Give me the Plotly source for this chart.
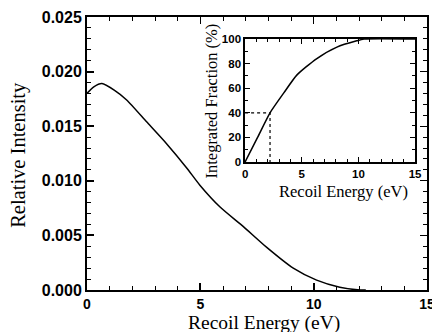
import plotly.graph_objects as go

# Main curve: relative intensity vs recoil energy
energy = [0, 0.3, 0.66, 1.2, 1.75, 2.63, 3.51, 4.39, 4.98, 5.87, 6.9, 7.93, 9.1, 10.13, 11.15, 11.94, 12.3]
intensity = [0.0180, 0.0186, 0.0189, 0.0183, 0.0174, 0.0154, 0.0134, 0.0112, 0.0096, 0.0076, 0.0058, 0.0039,
             0.0020, 0.0009, 0.00025, 0.00002, 0.0]

# Inset: integrated fraction
inset_energy = [0, 1.1, 2.2, 3.4, 4.56, 6.3, 8.1, 9.85, 10.5, 15]
inset_fraction = [0, 20, 40, 56, 70.7, 84, 93.5, 98.6, 100, 100]

# Dotted marker at 40 %
mark_x = 2.2
mark_y = 40

x_ticks = [0, 5, 10, 15]
y_ticks = [0.000, 0.005, 0.010, 0.015, 0.020, 0.025]
inset_y_ticks = [0, 20, 40, 60, 80, 100]

serif = "Liberation Serif"
sans = "Liberation Sans"

fig = go.Figure()
fig.add_trace(go.Scatter(x=energy, y=intensity, mode="lines",
                         line=dict(color="black", width=1.5, shape="spline", smoothing=0.6),
                         xaxis="x", yaxis="y", cliponaxis=False))
fig.add_trace(go.Scatter(x=inset_energy, y=inset_fraction, mode="lines",
                         line=dict(color="black", width=1.5, shape="spline", smoothing=0.6),
                         xaxis="x2", yaxis="y2"))
fig.add_trace(go.Scatter(x=[0, mark_x, mark_x], y=[mark_y, mark_y, 0], mode="lines",
                         line=dict(color="black", width=1.2, dash="dot"), xaxis="x2", yaxis="y2"))

axis_common = dict(showline=True, linecolor="black", mirror=True, ticks="inside",
                   tickcolor="black", showgrid=False, zeroline=False, automargin=False)


def tick_axis(overlay, side, rng, major, minor, tl, mtl, anchor, domain):
    return dict(overlaying=overlay, side=side, range=rng, dtick=major, ticks="inside",
                ticklen=tl, tickwidth=1.2, tickcolor="black", showticklabels=False,
                showline=False, showgrid=False, zeroline=False, automargin=False, anchor=anchor,
                domain=domain,
                minor=dict(dtick=minor, ticks="inside", ticklen=mtl, tickcolor="black", tickwidth=1))


fig.update_layout(
    width=432, height=324,
    margin=dict(l=79, r=13, t=9, b=42),
    paper_bgcolor="white", plot_bgcolor="white",
    showlegend=False,
    xaxis=dict(**axis_common, range=[0, 15], tickvals=x_ticks, linewidth=2, ticklen=7, tickwidth=1.5,
               minor=dict(dtick=1, ticks="inside", ticklen=4, tickcolor="black", tickwidth=1),
               tickfont=dict(family=sans, size=14, color="black"), domain=[0, 1]),
    yaxis=dict(**axis_common, range=[0, 0.025], tickvals=y_ticks, tickformat=".3f", linewidth=2, ticklen=7,
               tickwidth=1.5,
               minor=dict(dtick=0.001, ticks="inside", ticklen=4, tickcolor="black", tickwidth=1),
               tickfont=dict(family=sans, size=16, color="black"), domain=[0, 1]),
    xaxis3=tick_axis("x", "top", [0, 15], 5, 1, 7, 4, "y", [0, 1]),
    yaxis3=tick_axis("y", "right", [0, 0.025], 0.005, 0.001, 7, 4, "x", [0, 1]),
    xaxis2=dict(**axis_common, range=[0, 15], tickvals=x_ticks, linewidth=1.5, ticklen=5, tickwidth=1.2,
                minor=dict(dtick=1, ticks="inside", ticklen=3, tickcolor="black", tickwidth=1),
                tickfont=dict(family=sans, size=11.5, color="black"),
                domain=[0.465, 0.965], anchor="y2"),
    yaxis2=dict(**axis_common, range=[0, 100], tickvals=inset_y_ticks, linewidth=1.5, ticklen=5, tickwidth=1.2,
                minor=dict(dtick=10, ticks="inside", ticklen=3, tickcolor="black", tickwidth=1),
                tickfont=dict(family=sans, size=11.5, color="black"),
                domain=[0.469, 0.919], anchor="x2"),
    xaxis4=tick_axis("x2", "top", [0, 15], 5, 1, 5, 3, "y2", [0.465, 0.965]),
    yaxis4=tick_axis("y2", "right", [0, 100], 20, 10, 5, 3, "x2", [0.469, 0.919]),
    annotations=[
        dict(text="Recoil Energy (eV)", xref="paper", yref="paper", x=0.521, y=-0.12,
             xanchor="center", yanchor="middle", showarrow=False,
             font=dict(family=serif, size=19.5, color="black")),
        dict(text="Relative Intensity", xref="paper", yref="paper", x=-0.2, y=0.495, textangle=-90,
             xanchor="center", yanchor="middle", showarrow=False,
             font=dict(family=serif, size=20.5, color="black")),
        dict(text="Recoil Energy (eV)", xref="paper", yref="paper", x=0.753, y=0.36,
             xanchor="center", yanchor="middle", showarrow=False,
             font=dict(family=serif, size=16.5, color="black")),
        dict(text="Integrated Fraction (%)", xref="paper", yref="paper", x=0.366, y=0.692, textangle=-90,
             xanchor="center", yanchor="middle", showarrow=False,
             font=dict(family=serif, size=16.5, color="black")),
    ],
)
# invisible traces so the mirrored tick axes are drawn
fig.add_trace(go.Scatter(x=[0], y=[0], mode="markers", marker=dict(opacity=0), xaxis="x3", yaxis="y3",
                         hoverinfo="skip"))
fig.add_trace(go.Scatter(x=[0], y=[0], mode="markers", marker=dict(opacity=0), xaxis="x4", yaxis="y4",
                         hoverinfo="skip"))
fig.update_xaxes(tickfont_weight="bold")
fig.update_yaxes(tickfont_weight="bold")

fig.write_html("out.html")
